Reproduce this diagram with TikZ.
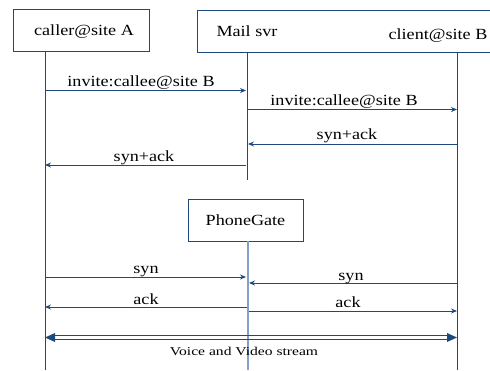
\documentclass[tikz,border=0pt]{standalone}
\usepackage{fontspec}
\setmainfont{Liberation Serif}
\usetikzlibrary{arrows.meta}
\definecolor{ln}{RGB}{31,73,125}
\definecolor{lnlight}{RGB}{130,160,200}
\newcommand\sxl[1]{\scalebox{1.17}[1]{#1}}
\newcommand\sxv[1]{\scalebox{1.3}[1]{#1}}
\tikzset{
  box/.style={draw=ln, line width=0.9pt, inner sep=0pt},
  lbl/.style={font=\fontsize{15.5}{18}\selectfont, inner sep=0pt, anchor=base},
  vlbl/.style={font=\fontsize{12}{14}\selectfont, inner sep=0pt, anchor=base},
  life/.style={draw=ln, line width=0.9pt},
  msg/.style={draw=ln, line width=0.9pt, -{Stealth[length=6pt,width=5pt]}},
}
\begin{document}
\begin{tikzpicture}[x=1pt,y=-1pt]
\clip (0,0) rectangle (490,370);
\fill[white] (0,0) rectangle (490,370);
% boxes
\node[box, minimum width=136pt, minimum height=42pt] (caller) at (81,30) {};
\node[box, minimum width=320pt, minimum height=42pt, anchor=north west] (top) at (197,10) {};
\node[box, minimum width=115pt, minimum height=42pt] (pg) at (245.5,220) {};
% box texts
\node[lbl] (tcaller) at (84,35) {\sxl{caller@site A}};
\node[lbl] (tmail) at (247,36) {\sxl{Mail svr}};
\node[lbl] (tclient) at (438,39) {\sxl{client@site B}};
\node[lbl] (tpg) at (245.5,225) {\sxl{PhoneGate}};
% lifeline coordinates
\coordinate (a0) at (45,51);   \coordinate (a1) at (45,370);
\coordinate (m0) at (247,52);  \coordinate (m1) at (247,180);
\coordinate (c0) at (457,52);  \coordinate (c1) at (457,370);
\coordinate (p0) at (247.5,241); \coordinate (p1) at (247.5,370);
\draw[life] (a0) -- (a1);
\draw[life] (m0) -- (m1);
\draw[life] (c0) -- (c1);
\draw[draw=lnlight, line width=2pt] (p0) -- (p1);
% message endpoints
\coordinate (a90) at (45,90.5);  \coordinate (m90) at (246,90.5);
\coordinate (m110) at (248,109.5); \coordinate (c110) at (457,109.5);
\coordinate (c144) at (457,144); \coordinate (m144) at (248,144);
\coordinate (m165) at (246,165); \coordinate (a165) at (45,165);
\coordinate (a277) at (45,277);  \coordinate (p277) at (246,277);
\coordinate (c283) at (457,283); \coordinate (p283) at (249,283);
\coordinate (p307) at (247,307); \coordinate (a307) at (45,307);
\coordinate (p311) at (249,311); \coordinate (c311) at (457,311);
\draw[msg] (a90) -- (m90);
\draw[msg] (m110) -- (c110);
\draw[msg] (c144) -- (m144);
\draw[msg] (m165) -- (a165);
\draw[msg] (a277) -- (p277);
\draw[msg] (c283) -- (p283);
\draw[msg] (p307) -- (a307);
\draw[msg] (p311) -- (c311);
% labels
\node[lbl] (l1) at (141,86.5) {\sxl{invite:callee@site B}};
\node[lbl] (l2) at (344,105.5) {\sxl{invite:callee@site B}};
\node[lbl] (l3) at (347,139.5) {\sxl{syn+ack}};
\node[lbl] (l4) at (144,161) {\sxl{syn+ack}};
\node[lbl] (l5) at (146,273) {\sxl{syn}};
\node[lbl] (l6) at (351,280) {\sxl{syn}};
\node[lbl] (l7) at (146,304) {\sxl{ack}};
\node[lbl] (l8) at (348,307.5) {\sxl{ack}};
% double stream arrow
\coordinate (vs) at (45,337.5); \coordinate (ve) at (457,337.5);
\draw[ln, line width=0.9pt] ([xshift=8pt,yshift=-1.7pt]vs) -- ([xshift=-8pt,yshift=-1.7pt]ve);
\draw[ln, line width=0.9pt] ([xshift=8pt,yshift=1.7pt]vs) -- ([xshift=-8pt,yshift=1.7pt]ve);
\fill[ln] (vs) -- ++(10,-4.5) -- ++(0,9) -- cycle;
\fill[ln] (ve) -- ++(-10,-4.5) -- ++(0,9) -- cycle;
\node[vlbl] (vl) at (244,355) {\sxv{Voice and Video stream}};
\end{tikzpicture}
\end{document}
